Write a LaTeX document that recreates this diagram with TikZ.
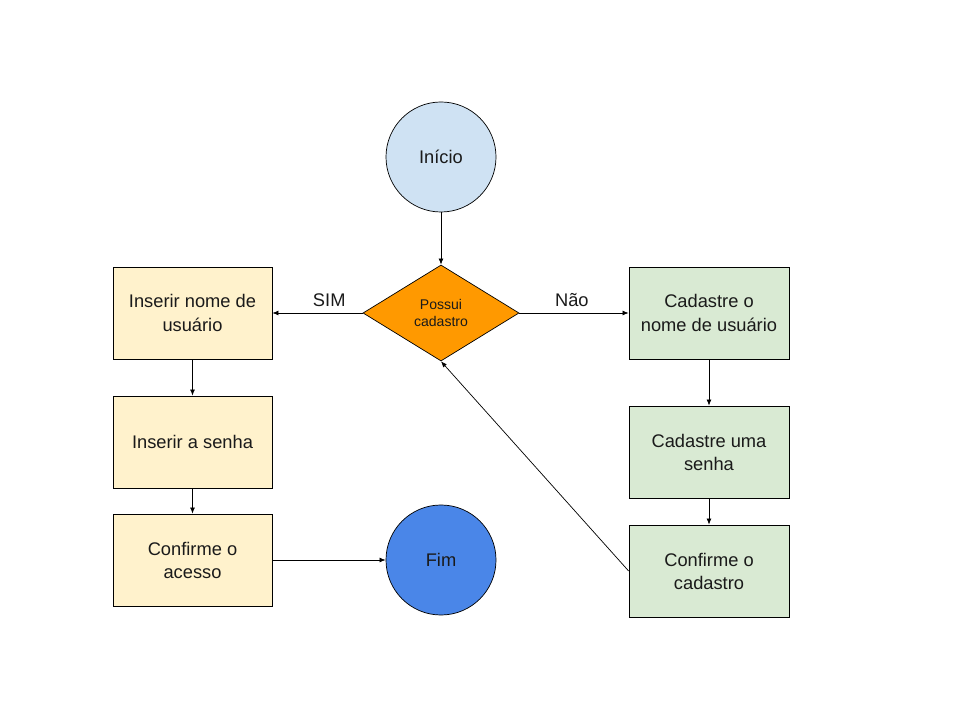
\documentclass[tikz,border=0pt]{standalone}
\usepackage{fontspec}
\setmainfont{Liberation Sans}
\usepackage{xcolor}
\usetikzlibrary{positioning, arrows.meta, shapes.geometric}
\definecolor{startblue}{HTML}{CFE2F3}
\definecolor{endblue}{HTML}{4A86E8}
\definecolor{askorange}{HTML}{FF9900}
\definecolor{loginyellow}{HTML}{FFF2CC}
\definecolor{signgreen}{HTML}{D9EAD3}
\definecolor{inkgray}{HTML}{1A1A1A}

\begin{document}
\begin{tikzpicture}[x=0.025cm, y=-0.025cm,
  every node/.style={text=inkgray, font=\fontsize{13}{16.4}\selectfont, align=center},
  endpoint/.style={circle, draw=black, line width=0.5pt, minimum size=2.75cm, inner sep=0pt},
  question/.style={diamond, draw=black, line width=0.5pt, fill=askorange, minimum width=3.9cm,
    minimum height=2.4cm, inner sep=0pt, font=\fontsize{10}{12.2}\selectfont},
  loginbox/.style={rectangle, draw=black, line width=0.5pt, fill=loginyellow,
    minimum width=3.975cm, minimum height=2.3cm, inner sep=0pt},
  signbox/.style={rectangle, draw=black, line width=0.5pt, fill=signgreen,
    minimum width=4cm, minimum height=2.3cm, inner sep=0pt},
  flow/.style={draw=black, line width=0.5pt, -{Latex[length=1.5mm, width=1.2mm]}}]

%--- Page frame (keeps the margins of the reference)
\useasboundingbox (0,0) rectangle (960,720);

%--- Start and decision
\node[endpoint, fill=startblue] (inicio) at (441,157) {Início};
\node[question] (possui) at (441,313) {Possui\\cadastro};

%--- Left column: user already has an account
\node[loginbox] (nome)   at (192.5,313) {Inserir nome de\\usuário};
\node[loginbox] (senha)  at (192.5,442) {Inserir a senha};
\node[loginbox] (acesso) at (192.5,560) {Confirme o\\acesso};

%--- Right column: new account
\node[signbox] (cadnome)  at (709,313) {Cadastre o\\nome de usuário};
\node[signbox] (cadsenha) at (709,452) {Cadastre uma\\senha};
\node[signbox] (cadconf)  at (709,571) {Confirme o\\cadastro};

%--- End
\node[endpoint, fill=endblue] (fim) at (441,560) {Fim};

%--- Connectors
\draw[flow] (inicio) -- (possui);
\draw[flow] (possui.west) -- node[pos=0.37, above=1pt] (sim) {SIM} (nome.east);
\draw[flow] (possui.east) -- node[pos=0.48, above=1pt] (nao) {Não} (cadnome.west);
\draw[flow] (nome) -- (senha);
\draw[flow] (senha) -- (acesso);
\draw[flow] (acesso) -- (fim);
\draw[flow] (cadnome) -- (cadsenha);
\draw[flow] (cadsenha) -- (cadconf);
\draw[flow] (cadconf.west) -- (possui.south);

\end{tikzpicture}
\end{document}
